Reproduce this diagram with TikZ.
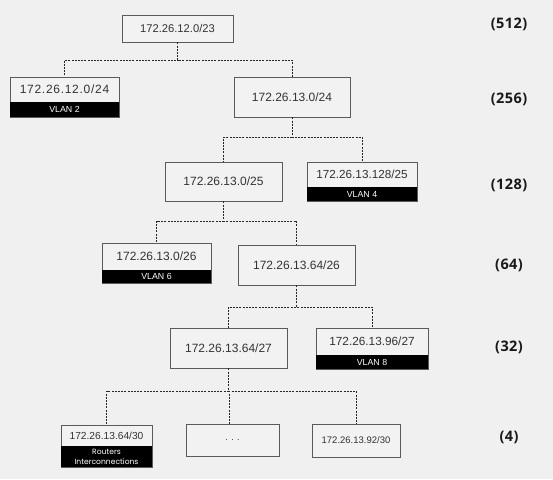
\documentclass[tikz,border=0pt]{standalone}
\usepackage{fontspec}
\setmainfont{Liberation Sans}
\newfontfamily\lblfont{Open Sans}
\newfontfamily\smallfont{Poppins}
\usetikzlibrary{calc}
\definecolor{bg}{HTML}{F0F0F0}
\definecolor{boxfill}{HTML}{F2F2F2}
\definecolor{boxline}{HTML}{5A5A5A}
\definecolor{txt}{HTML}{333333}
\tikzset{
  box/.style={draw=boxline, line width=0.8pt, fill=boxfill, rectangle, inner sep=0pt, text=txt},
  band/.style={fill=black, rectangle, inner sep=0pt, text=white, anchor=south},
  iptext/.style={text=txt, inner sep=0pt},
  conn/.style={draw=black!85, line width=0.8pt, dash pattern=on 2pt off 1.2pt},
  size/.style={font=\lblfont\bfseries\addfontfeature{LetterSpace=3}\fontsize{14.5}{16}\selectfont, text=black!90, inner sep=0pt}
}
\begin{document}
\begin{tikzpicture}[x=1pt,y=-1pt]
\fill[bg] (0,0) rectangle (553,479);
\useasboundingbox (0,0) rectangle (553,479);

% level 0
\node[box, minimum width=111pt, minimum height=27pt, font=\fontsize{11.2}{13}\selectfont] (A) at (177.5,28.5) {172.26.12.0/23};

% level 1
\node[box, minimum width=109pt, minimum height=40pt] (B) at (64.5,97) {};
\node[band, minimum width=109pt, minimum height=15pt, font=\fontsize{8.8}{10}\selectfont] (Bv) at (B.south) {VLAN 2};
\node[iptext, font=\addfontfeature{LetterSpace=6}\fontsize{12}{14}\selectfont] (Bt) at (64.5,89.5) {172.26.12.0/24};
\node[box, minimum width=116pt, minimum height=40pt, font=\fontsize{12}{14}\selectfont] (C) at (292,97) {172.26.13.0/24};

% level 2
\node[box, minimum width=117pt, minimum height=39pt, font=\fontsize{12}{14}\selectfont] (D) at (223.5,181.5) {172.26.13.0/25};
\node[box, minimum width=110pt, minimum height=39pt] (E) at (362,181.5) {};
\node[band, minimum width=110pt, minimum height=14pt, font=\fontsize{8.8}{10}\selectfont] (Ev) at (E.south) {VLAN 4};
\node[iptext, font=\fontsize{11.7}{14}\selectfont] (Et) at (362,174.5) {172.26.13.128/25};

% level 3
\node[box, minimum width=109pt, minimum height=40pt] (F) at (156.5,263) {};
\node[band, minimum width=109pt, minimum height=13pt, font=\fontsize{8.8}{10}\selectfont] (Fv) at (F.south) {VLAN 6};
\node[iptext, font=\fontsize{12}{14}\selectfont] (Ft) at (156.5,256) {172.26.13.0/26};
\node[box, minimum width=117pt, minimum height=40pt, font=\fontsize{12}{14}\selectfont] (G) at (296.5,265) {172.26.13.64/26};

% level 4
\node[box, minimum width=117pt, minimum height=40pt, font=\fontsize{12}{14}\selectfont] (H) at (228.5,348) {172.26.13.64/27};
\node[box, minimum width=112pt, minimum height=41pt] (I) at (372,348.5) {};
\node[band, minimum width=112pt, minimum height=14pt, font=\fontsize{8.8}{10}\selectfont] (Iv) at (I.south) {VLAN 8};
\node[iptext, font=\fontsize{11.8}{14}\selectfont] (It) at (372,341) {172.26.13.96/27};

% level 5
\node[box, minimum width=91pt, minimum height=42pt] (J) at (106.5,446) {};
\node[band, minimum width=91pt, minimum height=21pt, align=center, font=\smallfont\fontsize{7.6}{10.5}\selectfont] (Jv) at (J.south) {Routers\\Interconnections};
\node[iptext, font=\fontsize{10.2}{12}\selectfont] (Jt) at (106.5,436) {172.26.13.64/30};
\node[box, minimum width=93pt, minimum height=32pt, font=\fontsize{9}{11}\selectfont] (K) at (232.5,440) {. . .};
\node[box, minimum width=88pt, minimum height=33pt, font=\fontsize{9.5}{12}\selectfont] (L) at (356,440.5) {172.26.13.92/30};

% connectors
\draw[conn] (A.south) -- (A.south |- 0,60) -| (B.north);
\draw[conn] (A.south) -- (A.south |- 0,60) -| (C.north);
\draw[conn] (C.south) -- (C.south |- 0,137) -| (D.north);
\draw[conn] (C.south) -- (C.south |- 0,137) -| (E.north);
\draw[conn] (D.south) -- (D.south |- 0,221) -| (F.north);
\draw[conn] (D.south) -- (D.south |- 0,221) -| (G.north);
\draw[conn] (G.south) -- (G.south |- 0,307) -| (H.north);
\draw[conn] (G.south) -- (G.south |- 0,307) -| (I.north);
\draw[conn] (H.south) -- (H.south |- 0,391) -| (J.north);
\draw[conn] (H.south) -- (H.south |- 0,391) -| ($(K.north)+(-3.5,0)$);
\draw[conn] (H.south) -- (H.south |- 0,391) -| (L.north);

% size labels
\node[size] (s1) at (509,24) {(512)};
\node[size] (s2) at (509,99) {(256)};
\node[size] (s3) at (509,185) {(128)};
\node[size] (s4) at (509,265) {(64)};
\node[size] (s5) at (509,347) {(32)};
\node[size] (s6) at (509,437.5) {(4)};
\end{tikzpicture}
\end{document}
